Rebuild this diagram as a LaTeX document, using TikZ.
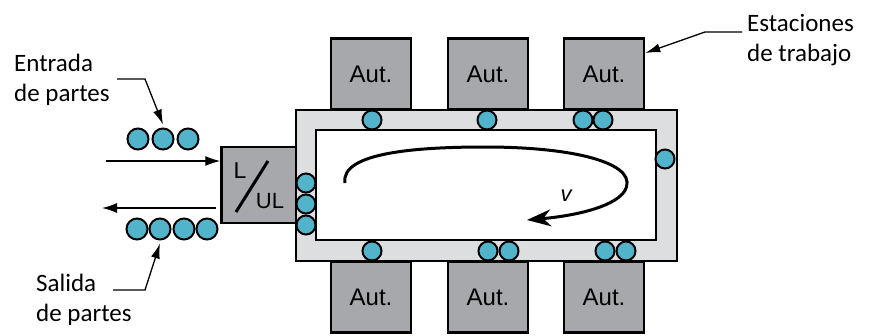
\documentclass[tikz,border=0pt]{standalone}
\usepackage{fontspec}
\setmainfont{Carlito}
\newfontfamily\autfont{Liberation Sans}
\usepackage{tikz}
\usetikzlibrary{arrows.meta}
\definecolor{partblue}{RGB}{82,180,203}
\definecolor{autgray}{RGB}{167,168,172}
\definecolor{trackgray}{RGB}{221,222,224}

\begin{document}
\begin{tikzpicture}[x=1pt,y=-1pt,
        aut/.style={draw,fill=autgray,line width=2.5pt,minimum width=80pt,minimum height=71pt,inner sep=0pt,font=\autfont\fontsize{24}{24}\selectfont},
        part/.style={draw,circle,fill=partblue,line width=2pt,minimum size=19pt,inner sep=0pt},
        bigpart/.style={part,minimum size=21pt},
        note/.style={align=left,anchor=west,inner sep=0pt,font=\fontsize{25}{30}\selectfont},
        leader/.style={line width=1.3pt,-{Latex[length=15pt,width=9pt]}},
        flow/.style={line width=1.3pt,-{Latex[length=15pt,width=10pt]}}]
        \useasboundingbox (0,0) rectangle (870,335);

        \node[aut] (Aut1) at (371,74) {Aut.};
        \node[aut] (Aut2) at (488,74) {Aut.};
        \node[aut] (Aut3) at (604,74) {Aut.};
        \node[aut] (Aut4) at (371,297) {Aut.};
        \node[aut] (Aut5) at (488,297) {Aut.};
        \node[aut] (Aut6) at (604,297) {Aut.};

        \node[aut,minimum width=75pt,minimum height=76pt] (LUL) at (259,185) {};
        \node[font=\autfont\fontsize{23}{23}\selectfont] (L) at (240,171) {L};
        \node[font=\autfont\fontsize{22}{22}\selectfont] (UL) at (270,201) {UL};
        \draw[line width=3pt] (268,161) -- (236,212);

        \draw[fill=trackgray,line width=2.5pt] (296,110) rectangle (677,261);
        \draw[fill=white,line width=2.5pt] (316,130) rectangle (656,240);

        \node[part] (T1) at (372,120) {};
        \node[part] (T2) at (487,120) {};
        \node[part] (T3) at (583,120) {};
        \node[part] (T4) at (603,120) {};
        \node[part] (R1) at (665,159) {};
        \node[part] (L1) at (306,183) {};
        \node[part] (L2) at (306,204) {};
        \node[part] (L3) at (306,225) {};
        \node[part] (B1) at (372,251) {};
        \node[part] (B2) at (488,251) {};
        \node[part] (B3) at (509,251) {};
        \node[part] (B4) at (605,251) {};
        \node[part] (B5) at (626,251) {};

        \node[bigpart] (E1) at (138,139) {};
        \node[bigpart] (E2) at (163,139) {};
        \node[bigpart] (E3) at (188,139) {};
        \node[bigpart] (S1) at (137,229) {};
        \node[bigpart] (S2) at (160,229) {};
        \node[bigpart] (S3) at (184,229) {};
        \node[bigpart] (S4) at (207,229) {};

        \coordinate (inStart) at (106,161);
        \coordinate (outEnd) at (102,208);
        \draw[flow] (inStart) -- (inStart -| LUL.west);
        \draw[flow] ([xshift=-4pt]outEnd -| LUL.west) -- (outEnd);

        \draw[line width=3pt,-{Stealth[length=24pt,width=17pt]}] (345,183) .. controls (340,152) and (420,147) .. (485,147)
            .. controls (580,147) and (642,165) .. (624,192) .. controls (612,208) and (572,216) .. (527,220);
        \node[font=\autfont\itshape\fontsize{22}{22}\selectfont] (v) at (566,196) {v};

        \node[note] (entrada) at (14,80) {Entrada\\de partes};
        \node[note] (salida) at (36,300) {Salida\\de partes};
        \node[note] (estaciones) at (747,40) {Estaciones\\de trabajo};

        \coordinate (entradaA) at (117,79);
        \coordinate (entradaKnee) at (145,79);
        \coordinate (salidaA) at (113,290);
        \coordinate (salidaKnee) at (145,290);
        \coordinate (estacionesA) at (742,32);
        \coordinate (estacionesKnee) at (705,32);

        \draw[leader] (entradaA) -- (entradaKnee) -- ([yshift=3pt]E2.north);
        \draw[leader] (salidaA) -- (salidaKnee) -- ([yshift=-3pt]S2.south);
        \draw[leader] (estacionesA) -- (estacionesKnee) -- ([yshift=21pt]Aut3.east);
\end{tikzpicture}
\end{document}
